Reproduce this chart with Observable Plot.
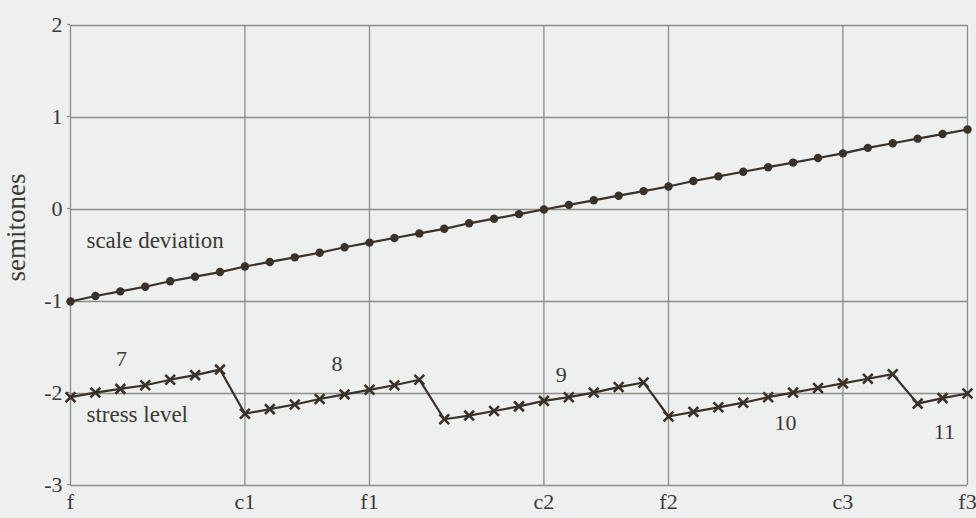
<!DOCTYPE html>
<html>
<head>
<meta charset="utf-8">
<script src="https://cdn.jsdelivr.net/npm/d3@7"></script>
<script src="https://cdn.jsdelivr.net/npm/@observablehq/plot@0.6"></script>
<style>
  html, body { margin: 0; padding: 0; background: #edf0ee; }
  #chart svg { display: block; }
</style>
</head>
<body>
<div id="chart"></div>
<script>
// semitone positions along the compass (f = 0 ... f3 = 36)
const semitoneSteps = [0,1,2,3,4,5,6,7,8,9,10,11,12,13,14,15,16,17,18,19,20,21,22,23,24,25,26,27,28,29,30,31,32,33,34,35,36];

// scale deviation (semitones)
const scaleDeviation = [-1.00,-0.94,-0.89,-0.84,-0.78,-0.73,-0.68,-0.62,-0.57,-0.52,-0.47,-0.41,-0.36,-0.31,-0.26,-0.21,-0.15,-0.10,-0.05,0.00,0.05,0.10,0.15,0.20,0.25,0.31,0.36,0.41,0.46,0.51,0.56,0.61,0.67,0.72,0.77,0.82,0.87];

// stress level (semitones)
const stressLevel = [-2.04,-1.99,-1.95,-1.91,-1.85,-1.80,-1.74,
                     -2.22,-2.17,-2.12,-2.06,-2.01,-1.96,-1.91,-1.85,
                     -2.28,-2.24,-2.19,-2.14,-2.08,-2.04,-1.99,-1.93,-1.88,
                     -2.25,-2.20,-2.15,-2.10,-2.04,-1.99,-1.94,-1.89,-1.84,-1.79,
                     -2.11,-2.05,-2.00];

// x axis notes
const noteNames = ["f","c1","f1","c2","f2","c3","f3"];
const notePositions = [0,7,12,19,24,31,36];

// y axis ticks
const yTicks = [-3,-2,-1,0,1,2];

// gauge segment labels
const gaugeLabels = ["7","8","9","10","11"];
const gaugeLabelX = [2.05,10.7,19.7,28.7,35.07];
const gaugeLabelY = [-1.62,-1.68,-1.80,-2.32,-2.42];

// series labels
const seriesLabels = ["scale deviation","stress level"];
const seriesLabelX = [0.64,0.64];
const seriesLabelY = [-0.34,-2.225];

const yLabel = "semitones";

const ink = "#3a3128";
const grid = "#8c8d88";
const textInk = "#3b3935";
const font = "'Liberation Serif', 'DejaVu Serif', serif";

const devData = semitoneSteps.map((s, i) => ({x: s, y: scaleDeviation[i]}));
const stressData = semitoneSteps.map((s, i) => ({x: s, y: stressLevel[i]}));
const gaugeData = gaugeLabels.map((t, i) => ({t, x: gaugeLabelX[i], y: gaugeLabelY[i]}));
const seriesData = seriesLabels.map((t, i) => ({t, x: seriesLabelX[i], y: seriesLabelY[i]}));

const chart = Plot.plot({
  width: 976,
  height: 518,
  marginLeft: 70,
  marginRight: 9,
  marginTop: 25,
  marginBottom: 33,
  style: {background: "#edf0ee", fontFamily: font, color: ink},
  x: {domain: [0, 36]},
  y: {domain: [-3, 2]},
  marks: [
    Plot.gridY(yTicks, {stroke: grid, strokeOpacity: 1, strokeWidth: 1.3}),
    Plot.ruleX(notePositions, {stroke: grid, strokeWidth: 1.3}),
    Plot.axisY(yTicks, {
      tickSize: 3, tickPadding: 5, stroke: grid, strokeWidth: 1.3, dy: -1,
      tickFormat: d => String(d), fontSize: 22, fill: textInk, label: null
    }),
    Plot.axisX(notePositions, {
      tickSize: 0, tickPadding: 8,
      tickFormat: d => noteNames[notePositions.indexOf(d)],
      fontSize: 22, fill: textInk, label: null
    }),
    Plot.text([yLabel], {
      frameAnchor: "left", textAnchor: "middle", dx: -54, dy: -28, rotate: -90,
      fontSize: 27, fill: textInk
    }),
    Plot.line(devData, {x: "x", y: "y", stroke: ink, strokeWidth: 2.2}),
    Plot.dot(devData, {x: "x", y: "y", r: 4.2, fill: ink, stroke: "none"}),
    Plot.line(stressData, {x: "x", y: "y", stroke: ink, strokeWidth: 2.2}),
    Plot.dot(stressData, {x: "x", y: "y", r: 4.5, symbol: "times", stroke: ink, strokeWidth: 2.6}),
    Plot.text(gaugeData, {x: "x", y: "y", text: "t", fontSize: 22, fill: textInk}),
    Plot.text(seriesData, {x: "x", y: "y", text: "t", textAnchor: "start", fontSize: 23, fill: textInk})
  ]
});

document.getElementById("chart").appendChild(chart);
</script>
</body>
</html>
